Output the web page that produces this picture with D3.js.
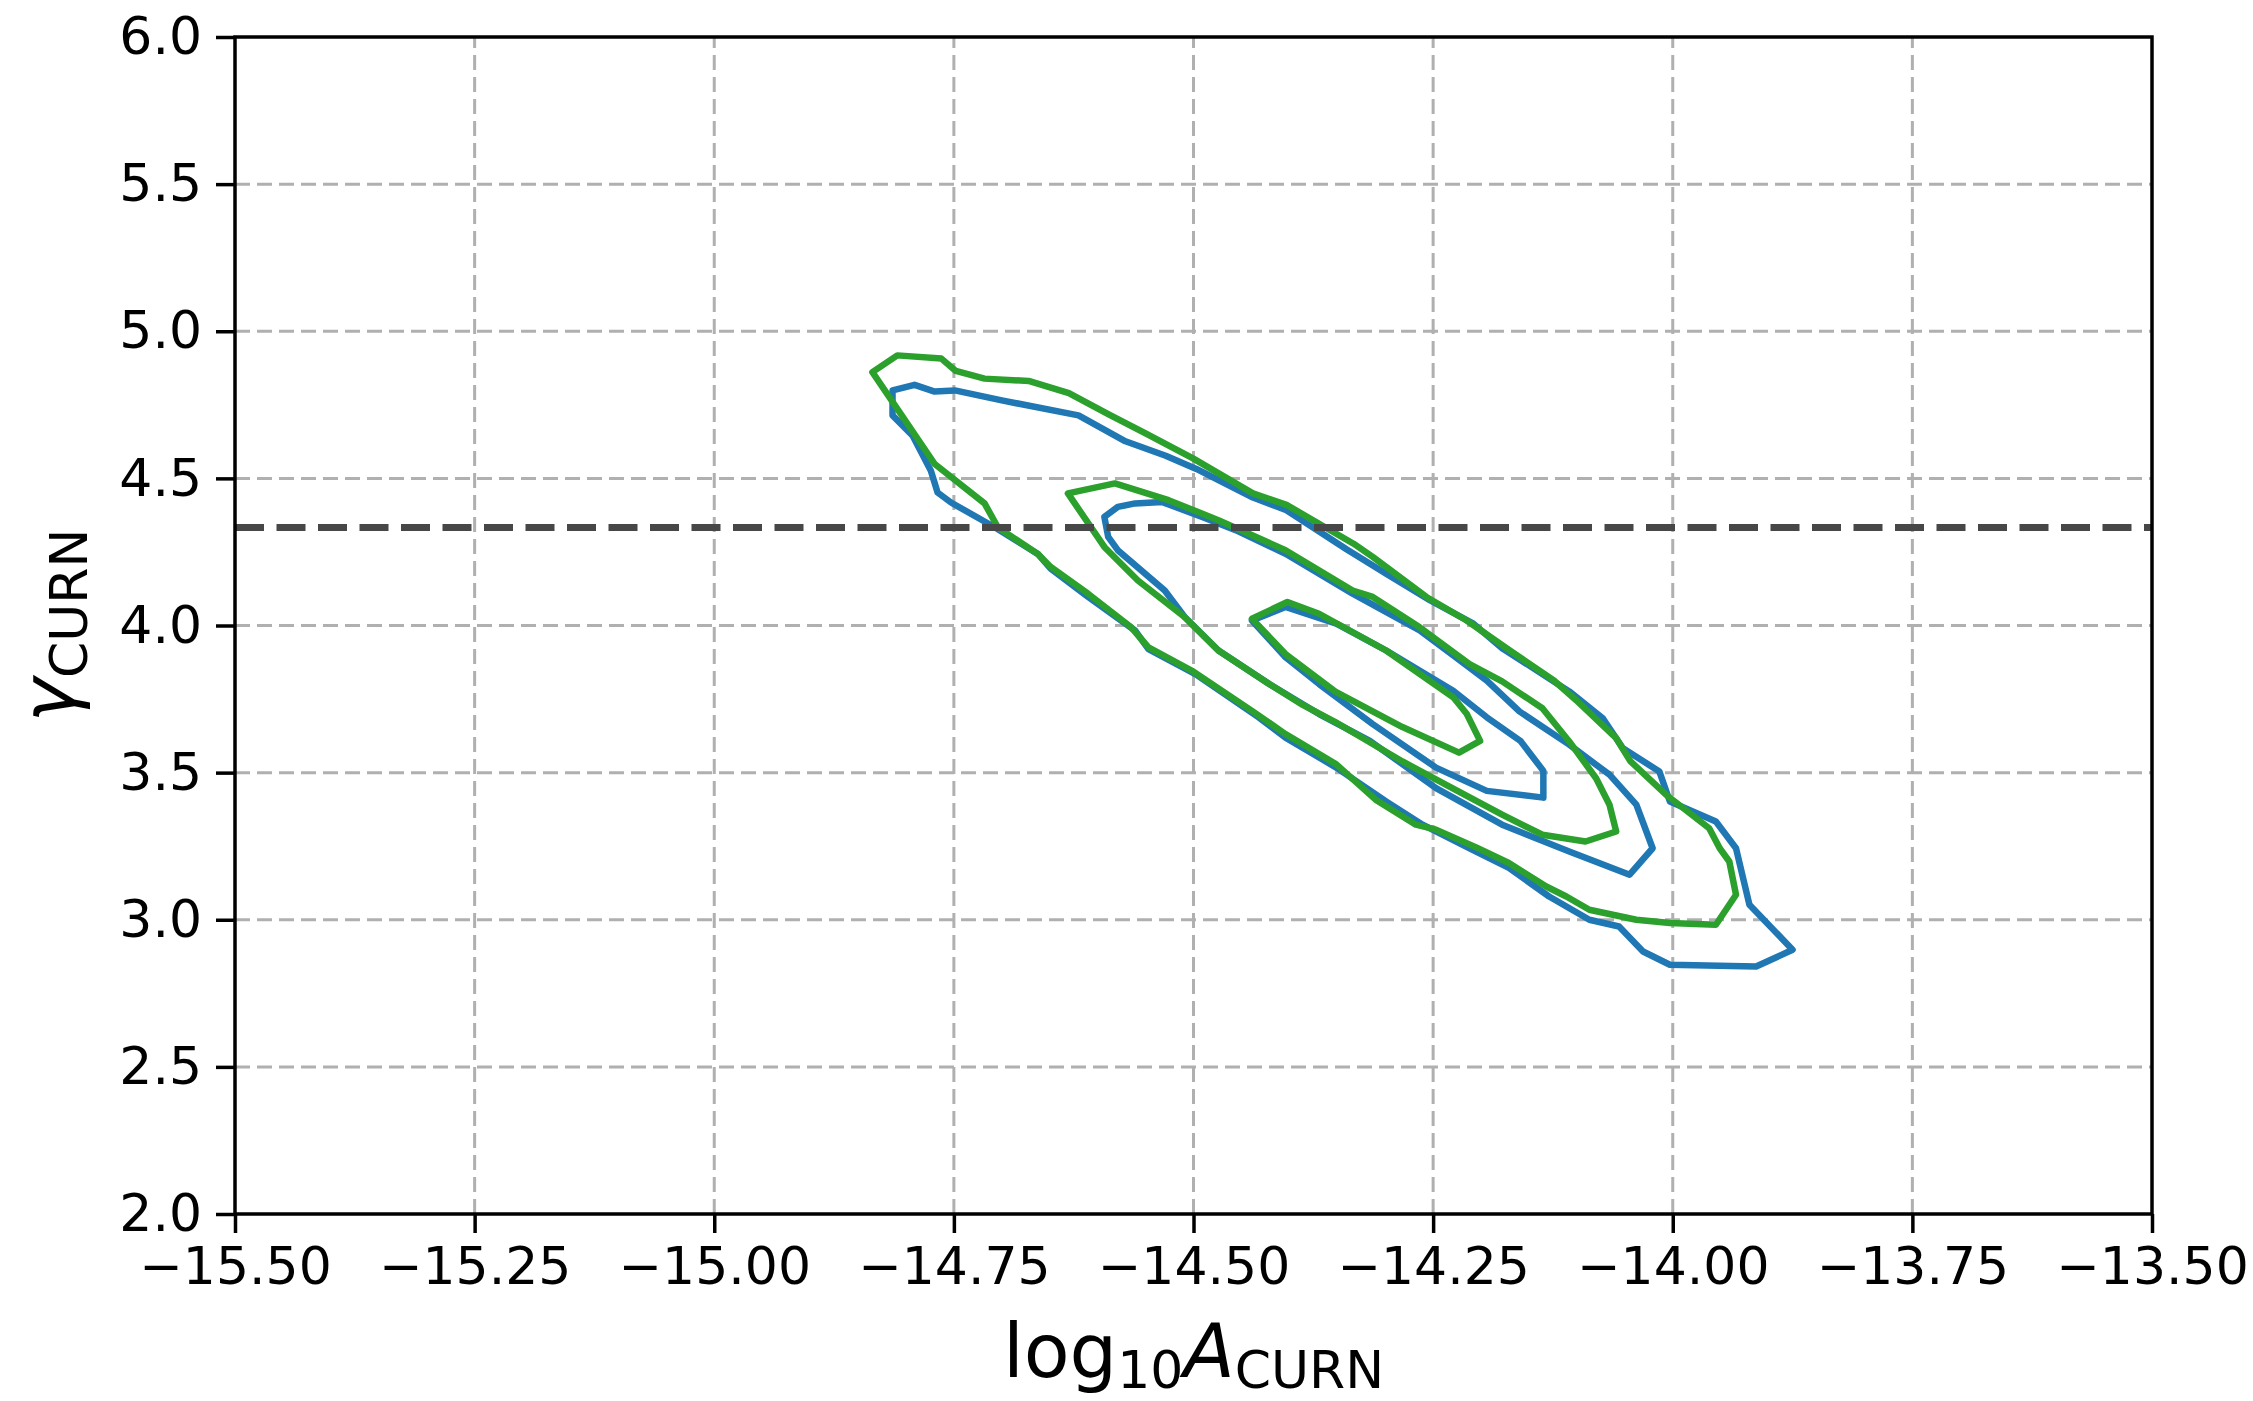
<!DOCTYPE html>
<html>
<head>
<meta charset="utf-8">
<script src="https://cdn.jsdelivr.net/npm/d3@7"></script>
<style>
  body { margin: 0; background: #fff; }
  text { font-family: "DejaVu Sans", sans-serif; fill: #000; }
</style>
</head>
<body>
<div id="chart"></div>
<script>
// tick values
var xTicks = [-15.5, -15.25, -15.0, -14.75, -14.5, -14.25, -14.0, -13.75, -13.5];
var yTicks = [2.0, 2.5, 3.0, 3.5, 4.0, 4.5, 5.0, 5.5, 6.0];

// reference value of gamma (13/3)
var gammaRef = 13 / 3;

// blue contours (outer, middle, inner), [log10A, gamma]
var blueOuter = [
  [-14.814, 4.799], [-14.791, 4.818], [-14.770, 4.795], [-14.749, 4.799], [-14.700, 4.765],
  [-14.620, 4.714], [-14.571, 4.626], [-14.529, 4.577], [-14.497, 4.532], [-14.438, 4.435],
  [-14.403, 4.392], [-14.340, 4.258], [-14.299, 4.176], [-14.253, 4.085], [-14.208, 4.006],
  [-14.178, 3.923], [-14.108, 3.776], [-14.073, 3.685], [-14.052, 3.583], [-14.014, 3.504],
  [-14.003, 3.402], [-13.955, 3.334], [-13.934, 3.243], [-13.920, 3.051], [-13.875, 2.898],
  [-13.913, 2.841], [-14.003, 2.847], [-14.031, 2.892], [-14.056, 2.977], [-14.087, 3.000],
  [-14.129, 3.079], [-14.171, 3.176], [-14.212, 3.243], [-14.261, 3.323], [-14.299, 3.402],
  [-14.351, 3.517], [-14.404, 3.619], [-14.432, 3.688], [-14.498, 3.835], [-14.547, 3.920],
  [-14.561, 3.983], [-14.610, 4.097], [-14.649, 4.193], [-14.662, 4.242], [-14.707, 4.333],
  [-14.753, 4.418], [-14.767, 4.452], [-14.774, 4.526], [-14.793, 4.645], [-14.814, 4.714]
];
var blueMiddle = [
  [-14.593, 4.369], [-14.579, 4.403], [-14.561, 4.415], [-14.533, 4.420], [-14.491, 4.369],
  [-14.456, 4.324], [-14.404, 4.244], [-14.334, 4.108], [-14.264, 3.983], [-14.229, 3.898],
  [-14.194, 3.813], [-14.160, 3.708], [-14.108, 3.595], [-14.066, 3.493], [-14.038, 3.391],
  [-14.021, 3.243], [-14.045, 3.153], [-14.108, 3.232], [-14.178, 3.323], [-14.247, 3.447],
  [-14.316, 3.608], [-14.369, 3.699], [-14.421, 3.801], [-14.474, 3.915], [-14.509, 4.028],
  [-14.530, 4.119], [-14.579, 4.256], [-14.589, 4.301]
];
var blueInner = [
  [-14.439, 4.017], [-14.404, 4.063], [-14.351, 4.006], [-14.299, 3.915], [-14.229, 3.778],
  [-14.194, 3.688], [-14.159, 3.608], [-14.135, 3.506], [-14.135, 3.415], [-14.194, 3.438],
  [-14.247, 3.517], [-14.313, 3.665], [-14.369, 3.801], [-14.404, 3.892]
];

// green contours (outer, middle, inner)
var greenOuter = [
  [-14.835, 4.861], [-14.809, 4.918], [-14.763, 4.907], [-14.748, 4.865], [-14.718, 4.839],
  [-14.672, 4.831], [-14.630, 4.790], [-14.588, 4.717], [-14.550, 4.653], [-14.501, 4.569],
  [-14.438, 4.449], [-14.403, 4.410], [-14.333, 4.278], [-14.313, 4.233], [-14.257, 4.097],
  [-14.215, 4.017], [-14.170, 3.915], [-14.124, 3.813], [-14.101, 3.747], [-14.059, 3.617],
  [-14.044, 3.538], [-14.007, 3.425], [-13.962, 3.311], [-13.951, 3.243], [-13.941, 3.198],
  [-13.934, 3.085], [-13.955, 2.983], [-14.003, 2.989], [-14.038, 3.000], [-14.087, 3.034],
  [-14.111, 3.079], [-14.132, 3.113], [-14.171, 3.193], [-14.205, 3.246], [-14.247, 3.306],
  [-14.268, 3.323], [-14.310, 3.408], [-14.351, 3.528], [-14.404, 3.631], [-14.439, 3.710],
  [-14.502, 3.847], [-14.547, 3.926], [-14.565, 3.994], [-14.610, 4.108], [-14.649, 4.199],
  [-14.662, 4.242], [-14.704, 4.333], [-14.718, 4.415], [-14.770, 4.549]
];
var greenMiddle = [
  [-14.631, 4.449], [-14.582, 4.483], [-14.526, 4.426], [-14.474, 4.358], [-14.404, 4.256],
  [-14.334, 4.119], [-14.313, 4.097], [-14.264, 3.994], [-14.212, 3.869], [-14.178, 3.810],
  [-14.136, 3.719], [-14.108, 3.606], [-14.080, 3.481], [-14.066, 3.391], [-14.059, 3.300],
  [-14.091, 3.266], [-14.136, 3.289], [-14.178, 3.357], [-14.230, 3.447], [-14.282, 3.538],
  [-14.352, 3.672], [-14.386, 3.730], [-14.421, 3.801], [-14.474, 3.915], [-14.509, 4.028],
  [-14.558, 4.153], [-14.593, 4.267]
];
var greenInner = [
  [-14.439, 4.023], [-14.402, 4.080], [-14.369, 4.040], [-14.299, 3.915], [-14.229, 3.756],
  [-14.215, 3.700], [-14.201, 3.608], [-14.223, 3.568], [-14.282, 3.655], [-14.352, 3.775],
  [-14.404, 3.903]
];

var width = 2253, height = 1401;
var margin = {left: 235, top: 37, right: 2253 - 2152, bottom: 1401 - 1214};

var svg = d3.select("#chart").append("svg")
    .attr("width", width)
    .attr("height", height);

var x = d3.scaleLinear().domain([-15.5, -13.5]).range([margin.left, width - margin.right]);
var y = d3.scaleLinear().domain([2, 6]).range([height - margin.bottom, margin.top]);

// grid
var grid = svg.append("g");
grid.selectAll(".gx").data(xTicks.slice(1, -1)).enter().append("line")
    .attr("x1", d => x(d)).attr("x2", d => x(d))
    .attr("y1", y(2)).attr("y2", y(6))
    .style("stroke", "#b0b0b0").style("stroke-width", 3).style("stroke-dasharray", "15,7");
grid.selectAll(".gy").data(yTicks.slice(1, -1)).enter().append("line")
    .attr("x1", x(-15.5)).attr("x2", x(-13.5))
    .attr("y1", d => y(d)).attr("y2", d => y(d))
    .style("stroke", "#b0b0b0").style("stroke-width", 3).style("stroke-dasharray", "15,7");

// contours
var line = d3.line().x(d => x(d[0])).y(d => y(d[1])).curve(d3.curveLinearClosed);

var contours = [
  {pts: blueOuter, color: "#1f77b4"},
  {pts: blueMiddle, color: "#1f77b4"},
  {pts: blueInner, color: "#1f77b4"},
  {pts: greenOuter, color: "#2ca02c"},
  {pts: greenMiddle, color: "#2ca02c"},
  {pts: greenInner, color: "#2ca02c"}
];

svg.append("g").selectAll("path").data(contours).enter().append("path")
    .attr("d", d => line(d.pts))
    .style("fill", "none")
    .style("stroke", d => d.color)
    .style("stroke-width", 6.5)
    .style("stroke-linejoin", "round");

// reference line
svg.append("line")
    .attr("x1", x(-15.5)).attr("x2", x(-13.5))
    .attr("y1", y(gammaRef)).attr("y2", y(gammaRef))
    .style("stroke", "#474747").style("stroke-width", 7).style("stroke-dasharray", "29,12.5");

// axes
var fmtX = d => d3.format(".2f")(d).replace("-", "\u2212");
var xAxis = d3.axisBottom(x).tickValues(xTicks).tickFormat(fmtX).tickSize(19).tickPadding(14);
var yAxis = d3.axisLeft(y).tickValues(yTicks).tickFormat(d3.format(".1f")).tickSize(19).tickPadding(14);

var gx = svg.append("g").attr("transform", "translate(0," + y(2) + ")").call(xAxis);
var gy = svg.append("g").attr("transform", "translate(" + x(-15.5) + ",0)").call(yAxis);
[gx, gy].forEach(function(g) {
  g.select(".domain").remove();
  g.selectAll(".tick line").style("stroke", "#000").style("stroke-width", 3.5);
  g.selectAll(".tick text").style("font-size", "52px").style("fill", "#000");
});

// frame
svg.append("rect")
    .attr("x", x(-15.5)).attr("y", y(6))
    .attr("width", x(-13.5) - x(-15.5)).attr("height", y(2) - y(6))
    .style("fill", "none").style("stroke", "#000").style("stroke-width", 3.5);

// axis labels
var xl = svg.append("text")
    .attr("x", (x(-15.5) + x(-13.5)) / 2).attr("y", 1377)
    .attr("text-anchor", "middle").style("font-size", "75px");
xl.append("tspan").text("log");
xl.append("tspan").attr("dy", 11).style("font-size", "52px").text("10");
xl.append("tspan").attr("dy", -11).style("font-style", "italic").text("A");
xl.append("tspan").attr("dy", 11).style("font-size", "52px").text("CURN");

var yl = svg.append("text")
    .attr("transform", "translate(74," + (y(2) + y(6)) / 2 + ") rotate(-90)")
    .attr("text-anchor", "middle").style("font-size", "75px");
yl.append("tspan").style("font-style", "italic").text("\u03b3");
yl.append("tspan").attr("dy", 13).style("font-size", "52px").text("CURN");
</script>
</body>
</html>
